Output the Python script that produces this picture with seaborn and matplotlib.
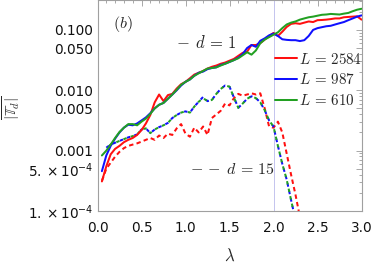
import matplotlib
matplotlib.use("Agg")
import matplotlib.pyplot as plt
import seaborn as sns
import pandas as pd
from matplotlib.ticker import FixedLocator, NullFormatter, LogLocator, MultipleLocator
from matplotlib.lines import Line2D

sns.set_theme(style="white")
plt.rcParams['font.family'] = ['DejaVu Sans']
plt.rcParams['mathtext.fontset'] = 'cm'

# ---------------- data ----------------
lam_solid = [0.05, 0.10, 0.15, 0.20, 0.25, 0.30, 0.35, 0.40, 0.45, 0.50,
             0.55, 0.60, 0.65, 0.70, 0.75, 0.80, 0.85, 0.90, 0.95, 1.00,
             1.05, 1.10, 1.15, 1.20, 1.25, 1.30, 1.35, 1.40, 1.45, 1.50,
             1.55, 1.60, 1.65, 1.70, 1.75, 1.80, 1.85, 1.90, 1.95, 2.00,
             2.05, 2.10, 2.15, 2.20, 2.25, 2.30, 2.35, 2.40, 2.45, 2.50,
             2.55, 2.60, 2.65, 2.70, 2.75, 2.80, 2.85, 2.90, 2.95, 3.00]

d1_L2584 = [3.09e-4, 5.50e-4, 8.71e-4, 1.07e-3, 1.20e-3, 1.38e-3, 1.51e-3, 1.62e-3, 1.82e-3, 2.19e-3,
            2.82e-3, 3.89e-3, 6.31e-3, 8.51e-3, 6.61e-3, 8.32e-3, 8.71e-3, 1.07e-2, 1.26e-2, 1.38e-2,
            1.58e-2, 1.82e-2, 1.95e-2, 2.09e-2, 2.29e-2, 2.45e-2, 2.57e-2, 2.75e-2, 2.88e-2, 3.09e-2,
            3.31e-2, 3.72e-2, 4.17e-2, 4.37e-2, 5.62e-2, 5.62e-2, 6.03e-2, 6.92e-2, 7.94e-2, 8.91e-2,
            7.94e-2, 9.33e-2, 0.112, 0.126, 0.129, 0.126, 0.132, 0.138, 0.135, 0.145,
            0.146, 0.148, 0.151, 0.155, 0.155, 0.162, 0.164, 0.166, 0.168, 0.148]

d1_L987 = [4.57e-4, 8.32e-4, 1.20e-3, 1.58e-3, 2.00e-3, 2.40e-3, 2.69e-3, 2.63e-3, 2.82e-3, 3.16e-3,
           3.55e-3, 4.17e-3, 5.01e-3, 5.75e-3, 6.17e-3, 7.24e-3, 8.51e-3, 1.00e-2, 1.20e-2, 1.38e-2,
           1.51e-2, 1.74e-2, 1.95e-2, 2.04e-2, 2.24e-2, 2.34e-2, 2.40e-2, 2.63e-2, 2.75e-2, 2.95e-2,
           3.16e-2, 3.47e-2, 3.98e-2, 5.01e-2, 5.62e-2, 5.25e-2, 6.61e-2, 7.24e-2, 8.13e-2, 8.71e-2,
           7.94e-2, 7.00e-2, 6.84e-2, 6.76e-2, 6.76e-2, 6.53e-2, 6.76e-2, 7.94e-2, 0.100, 0.107,
           0.111, 0.115, 0.117, 0.123, 0.129, 0.135, 0.145, 0.155, 0.166, 0.174]

d1_L610 = [8.32e-4, 1.00e-3, 1.26e-3, 1.62e-3, 2.04e-3, 2.40e-3, 2.75e-3, 2.75e-3, 2.63e-3, 3.02e-3,
           3.39e-3, 4.07e-3, 5.01e-3, 5.75e-3, 6.17e-3, 7.24e-3, 8.51e-3, 1.02e-2, 1.23e-2, 1.38e-2,
           1.51e-2, 1.74e-2, 1.91e-2, 2.09e-2, 2.29e-2, 2.34e-2, 2.40e-2, 2.57e-2, 2.75e-2, 2.95e-2,
           3.16e-2, 3.39e-2, 3.80e-2, 4.27e-2, 3.89e-2, 4.57e-2, 6.03e-2, 6.92e-2, 7.59e-2, 8.32e-2,
           9.12e-2, 0.107, 0.123, 0.132, 0.138, 0.148, 0.155, 0.162, 0.166, 0.172,
           0.178, 0.180, 0.184, 0.182, 0.180, 0.186, 0.191, 0.204, 0.216, 0.224]

lam_d15_red = [0.05, 0.10, 0.15, 0.20, 0.25, 0.30, 0.35, 0.40, 0.45, 0.50,
               0.55, 0.60, 0.65, 0.70, 0.75, 0.80, 0.85, 0.90, 0.95, 1.00,
               1.05, 1.10, 1.15, 1.20, 1.25, 1.30, 1.35, 1.40, 1.45, 1.50,
               1.55, 1.60, 1.65, 1.70, 1.75, 1.80, 1.85, 1.90, 1.95, 2.00,
               2.05, 2.10, 2.15, 2.20, 2.25, 2.30]
d15_L2584 = [3.16e-4, 5.01e-4, 6.31e-4, 7.94e-4, 9.55e-4, 1.10e-3, 1.20e-3, 1.26e-3, 1.32e-3, 1.41e-3,
             1.51e-3, 1.62e-3, 1.51e-3, 1.78e-3, 1.62e-3, 1.91e-3, 1.82e-3, 2.34e-3, 2.75e-3, 1.91e-3,
             1.70e-3, 2.40e-3, 2.00e-3, 2.51e-3, 1.82e-3, 3.47e-3, 3.98e-3, 4.57e-3, 6.03e-3, 5.62e-3,
             7.41e-3, 8.71e-3, 8.13e-3, 8.51e-3, 8.91e-3, 8.51e-3, 8.91e-3, 5.01e-3, 2.51e-3, 2.40e-3,
             3.02e-3, 2.00e-3, 8.91e-4, 3.98e-4, 1.86e-4, 7.94e-5]

lam_d15 = [0.10, 0.15, 0.20, 0.25, 0.30, 0.35, 0.40, 0.45, 0.50,
           0.55, 0.60, 0.65, 0.70, 0.75, 0.80, 0.85, 0.90, 0.95, 1.00,
           1.05, 1.10, 1.15, 1.20, 1.25, 1.30, 1.35, 1.40, 1.45, 1.50,
           1.55, 1.60, 1.65, 1.70, 1.75, 1.80, 1.85, 1.90, 1.95, 2.00,
           2.05, 2.10, 2.15, 2.20, 2.25]
d15_L987 = [1.12e-3, 1.26e-3, 1.35e-3, 1.45e-3, 1.55e-3, 1.66e-3, 1.74e-3, 1.86e-3, 2.24e-3,
            2.34e-3, 1.95e-3, 2.24e-3, 2.45e-3, 2.63e-3, 2.88e-3, 3.47e-3, 3.89e-3, 4.27e-3, 4.47e-3,
            4.27e-3, 5.37e-3, 6.46e-3, 7.76e-3, 6.61e-3, 6.92e-3, 8.71e-3, 1.05e-2, 1.20e-2, 1.15e-2,
            7.59e-3, 5.13e-3, 6.03e-3, 7.24e-3, 7.94e-3, 7.41e-3, 6.31e-3, 4.68e-3, 3.16e-3, 2.51e-3,
            1.20e-3, 6.03e-4, 3.31e-4, 1.51e-4, 7.08e-5]
d15_L610 = [1.12e-3, 1.26e-3, 1.35e-3, 1.45e-3, 1.55e-3, 1.66e-3, 1.74e-3, 1.86e-3, 2.24e-3,
            2.34e-3, 1.95e-3, 2.24e-3, 2.45e-3, 2.63e-3, 2.88e-3, 3.47e-3, 3.89e-3, 4.27e-3, 4.47e-3,
            4.27e-3, 5.37e-3, 6.46e-3, 7.41e-3, 6.61e-3, 6.92e-3, 8.71e-3, 1.05e-2, 1.20e-2, 1.15e-2,
            7.59e-3, 5.13e-3, 6.03e-3, 7.24e-3, 7.94e-3, 7.41e-3, 6.31e-3, 4.68e-3, 3.16e-3, 2.51e-3,
            1.20e-3, 6.03e-4, 3.31e-4, 1.51e-4, 7.08e-5]

series_labels = [r"$L\,=\,2584$", r"$L\,=\,987$", r"$L\,=\,610$"]
colors = ["#ff1010", "#1010ff", "#22a022"]
x_ticks = [0.0, 0.5, 1.0, 1.5, 2.0, 2.5, 3.0]
x_ticklabels = ["0.0", "0.5", "1.0", "1.5", "2.0", "2.5", "3.0"]
y_ticks = [1e-4, 5e-4, 1e-3, 5e-3, 1e-2, 5e-2, 1e-1]
y_ticklabels = [r"$1.\times10^{-4}$", r"$5.\times10^{-4}$", "0.001", "0.005",
                "0.010", "0.050", "0.100"]

# ---------------- figure ----------------
fig = plt.figure(figsize=(3.74, 2.65), dpi=100)
ax = fig.add_axes([97.5 / 374, 54 / 265, 264 / 374, 211 / 265])
ax.set_yscale("log")

ax.axvline(2.0, color="#c4c4ee", lw=0.7, zorder=1)

lw = 1.45
solid = [d1_L2584, d1_L987, d1_L610]
for vals, c, lab in zip(solid, colors, series_labels):
    sns.lineplot(x=lam_solid, y=vals, color=c, lw=lw, ax=ax, label=lab, zorder=3)

sns.lineplot(x=lam_d15_red, y=d15_L2584, color=colors[0], lw=lw, ax=ax,
             linestyle=(0, (2.2, 1.6)), zorder=2)
sns.lineplot(x=lam_d15, y=d15_L987, color=colors[1], lw=lw, ax=ax,
             linestyle=(0, (1.7, 2.1)), zorder=2)
sns.lineplot(x=lam_d15, y=d15_L610, color=colors[2], lw=lw, ax=ax,
             linestyle=(1.9, (1.7, 2.1)), zorder=2)

ax.set_xlim(0.0, 3.0)
ax.set_ylim(1e-4, 0.313)

# ticks
ax.xaxis.set_major_locator(FixedLocator(x_ticks))
ax.set_xticklabels(x_ticklabels)
ax.xaxis.set_minor_locator(MultipleLocator(0.1))
ax.yaxis.set_major_locator(FixedLocator(y_ticks))
ax.set_yticklabels(y_ticklabels)
ax.yaxis.set_minor_locator(LogLocator(base=10, subs=(2, 3, 4, 5, 6, 7, 8, 9), numticks=20))
ax.yaxis.set_minor_formatter(NullFormatter())
for lbl in ax.get_yticklabels():
    lbl.set_math_fontfamily("dejavusans")

ax.tick_params(which="both", direction="in", top=True, right=True, color="#9a9a9a",
               width=0.6, labelsize=9.8, labelcolor="#111111")
ax.tick_params(which="major", length=4)
ax.tick_params(which="minor", length=2)
ax.tick_params(axis="x", which="major", pad=7)
ax.tick_params(axis="y", which="major", pad=3)

for sp in ax.spines.values():
    sp.set_color("#a0a0a0")
    sp.set_linewidth(0.8)

ax.set_xlabel(r"$\lambda$", fontsize=12)
ax.xaxis.set_label_coords(0.502, -0.17)
ax.set_ylabel(r"$\overline{|\mathbb{T}_d|}$", fontsize=11)
ax.yaxis.label.set_verticalalignment("center")
ax.yaxis.set_label_coords(-0.325, 0.49)

ax.text(0.097, 0.885, r"$(b)$", transform=ax.transAxes, fontsize=11.5,
        ha="center", va="center")
ax.text(0.411, 0.798, r"$-\;\, d\,=\,1$", transform=ax.transAxes, fontsize=12,
        ha="center", va="center")
ax.text(0.51, 0.199, r"$\mathrm{-\,-}\;d\,=\,15$", transform=ax.transAxes, fontsize=11.5,
        ha="center", va="center")

handles = [Line2D([], [], color=c, lw=lw) for c in colors]
ax.legend(handles, series_labels, loc="upper left", bbox_to_anchor=(0.672, 0.755),
          frameon=False, fontsize=10.8, handlelength=1.45, handletextpad=0.15,
          labelspacing=0.38, borderpad=0, borderaxespad=0)

fig.savefig("out.png", dpi=100)
